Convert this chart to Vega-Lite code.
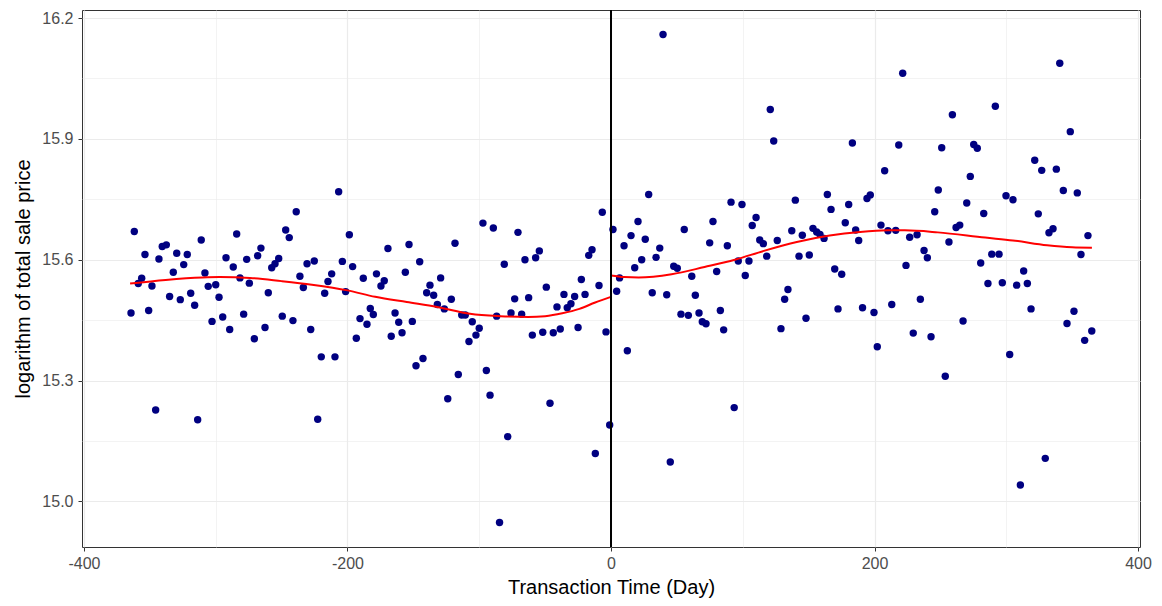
{
"$schema": "https://vega.github.io/schema/vega-lite/v6.json",
"width": 1058, "height": 537,
"autosize": {"type": "none"},
"padding": {"left": 82, "top": 10, "right": 22, "bottom": 59},
"background": "white",
"config": {
  "font": "Liberation Sans",
  "view": {"stroke": "#333333", "strokeWidth": 1},
  "axis": {"domain": false, "tickColor": "#333333", "tickSize": 4, "tickWidth": 1, "labelColor": "#4D4D4D", "labelFontSize": 16, "labelFont": "Liberation Sans", "titleFont": "Liberation Sans", "titleFontSize": 20, "titleFontWeight": "normal", "titleColor": "#000000", "gridColor": "#EBEBEB"}
},
"datasets": {
  "pts": [
{"day":-364.3,"lp":15.468},{"day":-361.8,"lp":15.670},{"day":-358.8,"lp":15.541},{"day":-356.2,"lp":15.554},{"day":-353.7,"lp":15.613},{"day":-350.9,"lp":15.474},{"day":-348.4,"lp":15.535},{"day":-345.6,"lp":15.227},{"day":-343.1,"lp":15.602},{"day":-340.6,"lp":15.633},{"day":-337.5,"lp":15.637},{"day":-335.0,"lp":15.509},{"day":-332.2,"lp":15.569},{"day":-329.6,"lp":15.616},{"day":-326.9,"lp":15.501},{"day":-324.3,"lp":15.588},{"day":-321.6,"lp":15.613},{"day":-319.0,"lp":15.517},{"day":-316.0,"lp":15.487},{"day":-313.7,"lp":15.203},{"day":-311.0,"lp":15.649},{"day":-308.2,"lp":15.567},{"day":-305.7,"lp":15.534},{"day":-302.8,"lp":15.447},{"day":-300.0,"lp":15.538},{"day":-297.5,"lp":15.507},{"day":-294.7,"lp":15.458},{"day":-292.2,"lp":15.605},{"day":-289.4,"lp":15.427},{"day":-286.7,"lp":15.582},{"day":-284.1,"lp":15.664},{"day":-281.6,"lp":15.555},{"day":-278.8,"lp":15.465},{"day":-276.5,"lp":15.601},{"day":-274.5,"lp":15.542},{"day":-270.7,"lp":15.404},{"day":-268.2,"lp":15.610},{"day":-265.7,"lp":15.629},{"day":-262.6,"lp":15.432},{"day":-260.1,"lp":15.518},{"day":-257.5,"lp":15.580},{"day":-255.0,"lp":15.590},{"day":-252.2,"lp":15.603},{"day":-249.5,"lp":15.460},{"day":-246.9,"lp":15.674},{"day":-244.2,"lp":15.655},{"day":-241.4,"lp":15.449},{"day":-238.9,"lp":15.719},{"day":-236.1,"lp":15.559},{"day":-233.5,"lp":15.531},{"day":-230.7,"lp":15.590},{"day":-227.9,"lp":15.427},{"day":-225.2,"lp":15.597},{"day":-222.6,"lp":15.204},{"day":-219.9,"lp":15.359},{"day":-217.3,"lp":15.517},{"day":-214.8,"lp":15.546},{"day":-212.0,"lp":15.565},{"day":-209.5,"lp":15.359},{"day":-206.7,"lp":15.769},{"day":-203.9,"lp":15.596},{"day":-201.4,"lp":15.521},{"day":-198.6,"lp":15.662},{"day":-196.1,"lp":15.583},{"day":-193.3,"lp":15.405},{"day":-190.5,"lp":15.454},{"day":-188.0,"lp":15.554},{"day":-185.2,"lp":15.440},{"day":-182.7,"lp":15.479},{"day":-180.4,"lp":15.464},{"day":-178.0,"lp":15.565},{"day":-174.6,"lp":15.535},{"day":-172.1,"lp":15.548},{"day":-169.3,"lp":15.628},{"day":-166.8,"lp":15.410},{"day":-163.9,"lp":15.468},{"day":-161.1,"lp":15.445},{"day":-158.6,"lp":15.419},{"day":-156.1,"lp":15.569},{"day":-153.3,"lp":15.638},{"day":-150.8,"lp":15.447},{"day":-148.0,"lp":15.337},{"day":-145.2,"lp":15.595},{"day":-142.7,"lp":15.355},{"day":-139.9,"lp":15.518},{"day":-137.4,"lp":15.537},{"day":-134.6,"lp":15.512},{"day":-131.8,"lp":15.489},{"day":-129.3,"lp":15.555},{"day":-126.5,"lp":15.478},{"day":-123.9,"lp":15.255},{"day":-121.2,"lp":15.502},{"day":-118.4,"lp":15.641},{"day":-115.9,"lp":15.315},{"day":-113.3,"lp":15.463},{"day":-110.6,"lp":15.463},{"day":-107.8,"lp":15.397},{"day":-105.3,"lp":15.446},{"day":-102.5,"lp":15.413},{"day":-100.0,"lp":15.430},{"day":-97.2,"lp":15.691},{"day":-94.6,"lp":15.325},{"day":-91.8,"lp":15.264},{"day":-89.3,"lp":15.679},{"day":-86.8,"lp":15.460},{"day":-84.6,"lp":14.948},{"day":-81.0,"lp":15.589},{"day":-78.4,"lp":15.161},{"day":-75.9,"lp":15.468},{"day":-73.1,"lp":15.503},{"day":-70.6,"lp":15.668},{"day":-67.8,"lp":15.465},{"day":-65.3,"lp":15.600},{"day":-62.5,"lp":15.506},{"day":-59.7,"lp":15.413},{"day":-57.2,"lp":15.605},{"day":-54.4,"lp":15.622},{"day":-51.8,"lp":15.420},{"day":-49.1,"lp":15.532},{"day":-46.3,"lp":15.244},{"day":-43.8,"lp":15.419},{"day":-41.0,"lp":15.483},{"day":-38.5,"lp":15.428},{"day":-35.7,"lp":15.514},{"day":-33.2,"lp":15.481},{"day":-30.4,"lp":15.491},{"day":-27.6,"lp":15.509},{"day":-25.0,"lp":15.432},{"day":-22.5,"lp":15.551},{"day":-19.7,"lp":15.514},{"day":-16.9,"lp":15.611},{"day":-14.4,"lp":15.625},{"day":-11.9,"lp":15.119},{"day":-9.1,"lp":15.536},{"day":-6.6,"lp":15.718},{"day":-3.8,"lp":15.421},{"day":-1.0,"lp":15.190},
{"day":1.5,"lp":15.675},{"day":4.3,"lp":15.522},{"day":6.5,"lp":15.555},{"day":9.9,"lp":15.635},{"day":12.4,"lp":15.374},{"day":15.2,"lp":15.660},{"day":18.0,"lp":15.580},{"day":20.5,"lp":15.695},{"day":23.3,"lp":15.600},{"day":26.0,"lp":15.651},{"day":28.6,"lp":15.762},{"day":31.3,"lp":15.518},{"day":34.2,"lp":15.606},{"day":37.0,"lp":15.629},{"day":39.5,"lp":16.159},{"day":42.3,"lp":15.513},{"day":45.0,"lp":15.098},{"day":47.6,"lp":15.584},{"day":50.3,"lp":15.579},{"day":53.1,"lp":15.465},{"day":55.6,"lp":15.675},{"day":58.7,"lp":15.462},{"day":61.3,"lp":15.559},{"day":64.0,"lp":15.512},{"day":66.8,"lp":15.468},{"day":69.3,"lp":15.446},{"day":72.1,"lp":15.441},{"day":74.9,"lp":15.642},{"day":77.4,"lp":15.695},{"day":80.2,"lp":15.571},{"day":83.0,"lp":15.474},{"day":85.5,"lp":15.426},{"day":88.3,"lp":15.635},{"day":91.1,"lp":15.743},{"day":93.5,"lp":15.233},{"day":96.6,"lp":15.597},{"day":99.4,"lp":15.737},{"day":101.9,"lp":15.561},{"day":104.7,"lp":15.597},{"day":107.2,"lp":15.685},{"day":110.1,"lp":15.705},{"day":112.9,"lp":15.649},{"day":115.6,"lp":15.640},{"day":118.2,"lp":15.609},{"day":120.9,"lp":15.973},{"day":123.5,"lp":15.895},{"day":126.2,"lp":15.648},{"day":129.0,"lp":15.429},{"day":131.8,"lp":15.502},{"day":134.3,"lp":15.526},{"day":137.2,"lp":15.672},{"day":139.9,"lp":15.748},{"day":142.7,"lp":15.609},{"day":145.2,"lp":15.661},{"day":148.0,"lp":15.455},{"day":150.5,"lp":15.612},{"day":153.3,"lp":15.678},{"day":156.1,"lp":15.669},{"day":158.6,"lp":15.663},{"day":161.7,"lp":15.653},{"day":164.2,"lp":15.762},{"day":167.0,"lp":15.725},{"day":169.8,"lp":15.577},{"day":172.3,"lp":15.478},{"day":175.1,"lp":15.564},{"day":177.8,"lp":15.692},{"day":180.4,"lp":15.737},{"day":183.2,"lp":15.890},{"day":185.7,"lp":15.674},{"day":188.0,"lp":15.648},{"day":190.9,"lp":15.481},{"day":194.3,"lp":15.752},{"day":196.8,"lp":15.761},{"day":199.6,"lp":15.469},{"day":202.1,"lp":15.384},{"day":204.9,"lp":15.686},{"day":207.7,"lp":15.821},{"day":210.2,"lp":15.672},{"day":213.1,"lp":15.489},{"day":216.1,"lp":15.673},{"day":218.4,"lp":15.885},{"day":221.4,"lp":16.063},{"day":223.9,"lp":15.586},{"day":226.7,"lp":15.656},{"day":229.4,"lp":15.418},{"day":232.3,"lp":15.662},{"day":234.8,"lp":15.502},{"day":237.6,"lp":15.623},{"day":240.1,"lp":15.605},{"day":242.9,"lp":15.409},{"day":245.7,"lp":15.719},{"day":248.4,"lp":15.773},{"day":251.0,"lp":15.878},{"day":253.7,"lp":15.311},{"day":256.5,"lp":15.644},{"day":259.1,"lp":15.960},{"day":261.9,"lp":15.680},{"day":264.7,"lp":15.686},{"day":267.2,"lp":15.448},{"day":270.0,"lp":15.741},{"day":272.7,"lp":15.807},{"day":275.3,"lp":15.886},{"day":278.0,"lp":15.877},{"day":280.6,"lp":15.592},{"day":282.9,"lp":15.715},{"day":286.1,"lp":15.541},{"day":289.0,"lp":15.614},{"day":291.7,"lp":15.981},{"day":294.5,"lp":15.614},{"day":297.0,"lp":15.543},{"day":299.8,"lp":15.759},{"day":302.6,"lp":15.365},{"day":305.1,"lp":15.749},{"day":307.9,"lp":15.537},{"day":310.7,"lp":15.041},{"day":313.2,"lp":15.572},{"day":316.0,"lp":15.541},{"day":318.8,"lp":15.478},{"day":321.6,"lp":15.847},{"day":324.3,"lp":15.714},{"day":326.9,"lp":15.822},{"day":329.6,"lp":15.107},{"day":332.4,"lp":15.667},{"day":335.5,"lp":15.677},{"day":338.0,"lp":15.825},{"day":340.6,"lp":16.088},{"day":343.3,"lp":15.772},{"day":346.1,"lp":15.442},{"day":348.6,"lp":15.918},{"day":351.4,"lp":15.472},{"day":353.9,"lp":15.766},{"day":356.7,"lp":15.613},{"day":359.5,"lp":15.400},{"day":362.0,"lp":15.660},{"day":364.9,"lp":15.423}
  ],
  "smooth": [
{"side":"pre","day":-365,"lp":15.541},{"day":-338,"side":"pre","lp":15.550},{"day":-310,"side":"pre","lp":15.556},{"day":-297,"side":"pre","lp":15.557},{"day":-274,"side":"pre","lp":15.555},{"day":-250,"side":"pre","lp":15.547},{"day":-227,"side":"pre","lp":15.538},{"day":-200,"side":"pre","lp":15.524},{"day":-179,"side":"pre","lp":15.508},{"day":-155,"side":"pre","lp":15.495},{"day":-132,"side":"pre","lp":15.483},{"day":-107,"side":"pre","lp":15.466},{"day":-84,"side":"pre","lp":15.460},{"day":-63,"side":"pre","lp":15.458},{"day":-50,"side":"pre","lp":15.460},{"day":-37,"side":"pre","lp":15.467},{"day":-24,"side":"pre","lp":15.478},{"day":-12,"side":"pre","lp":15.494},{"day":0,"side":"pre","lp":15.508},
{"day":0,"side":"post","lp":15.561},{"day":10,"side":"post","lp":15.557},{"day":21,"side":"post","lp":15.556},{"day":46,"side":"post","lp":15.564},{"day":71,"side":"post","lp":15.582},{"day":94,"side":"post","lp":15.600},{"day":116,"side":"post","lp":15.622},{"day":141,"side":"post","lp":15.644},{"day":166,"side":"post","lp":15.660},{"day":189,"side":"post","lp":15.669},{"day":210,"side":"post","lp":15.673},{"day":223,"side":"post","lp":15.673},{"day":248,"side":"post","lp":15.668},{"day":284,"side":"post","lp":15.655},{"day":305,"side":"post","lp":15.648},{"day":331,"side":"post","lp":15.636},{"day":350,"side":"post","lp":15.631},{"day":365,"side":"post","lp":15.630}
  ],
  "cut": [{"day": 0}]
},
"encoding": {
  "x": {"field": "day", "type": "quantitative", "title": "Transaction Time (Day)",
        "scale": {"domain": [-401.5, 401.5], "nice": false, "zero": false},
        "axis": {"values": [-400,-300,-200,-100,0,100,200,300,400],
                 "labelExpr": "datum.value % 200 === 0 ? '' + datum.value : ''",
                 "labelPadding": 4, "titlePadding": 6, "labelFlush": false,
                 "tickOpacity": {"condition": {"test": "datum.value % 200 === 0", "value": 1}, "value": 0},
                 "gridWidth": {"condition": {"test": "datum.value % 200 === 0", "value": 1.2}, "value": 0.6}}},
  "y": {"field": "lp", "type": "quantitative", "title": "logarithm of total sale price",
        "scale": {"domain": [14.887, 16.22], "nice": false, "zero": false},
        "axis": {"values": [15.0,15.15,15.3,15.45,15.6,15.75,15.9,16.05,16.2],
                 "labelExpr": "abs(datum.value/0.3 - round(datum.value/0.3)) < 0.01 ? format(datum.value, '.1f') : ''",
                 "labelPadding": 5, "titlePadding": 8, "labelFlush": false,
                 "tickOpacity": {"condition": {"test": "abs(datum.value/0.3 - round(datum.value/0.3)) < 0.01", "value": 1}, "value": 0},
                 "gridWidth": {"condition": {"test": "abs(datum.value/0.3 - round(datum.value/0.3)) < 0.01", "value": 1.2}, "value": 0.6}}}
},
"layer": [
  {"data": {"name": "pts"}, "mark": {"type": "circle", "size": 55, "color": "#000080", "opacity": 1}},
  {"data": {"name": "smooth"}, "mark": {"type": "line", "color": "#FF0000", "strokeWidth": 2, "interpolate": "monotone"},
   "encoding": {"detail": {"field": "side"}}},
  {"data": {"name": "cut"}, "mark": {"type": "rule", "color": "#000000", "strokeWidth": 2},
   "encoding": {"x": {"field": "day", "type": "quantitative"}, "y": {"value": 0}, "y2": {"value": 537}}}
]
}
